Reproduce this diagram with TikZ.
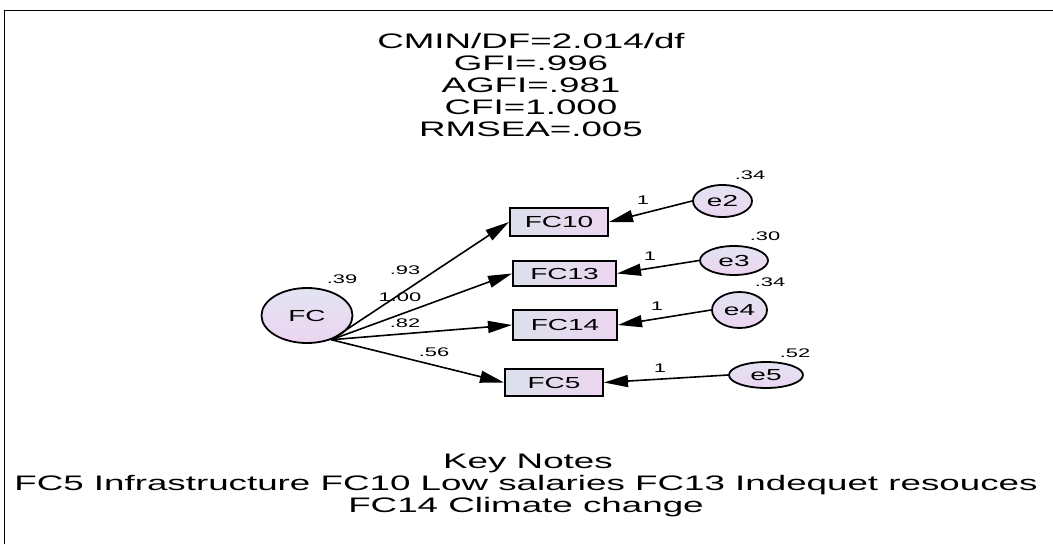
\documentclass[tikz,border=0pt]{standalone}
\usepackage{fontspec}
\setmainfont{Liberation Sans}[FakeStretch=1.75]
\usetikzlibrary{shapes.geometric,arrows.meta}
\definecolor{boxL}{RGB}{220,224,236}
\definecolor{boxR}{RGB}{236,214,240}
\definecolor{ellT}{RGB}{226,228,242}
\definecolor{ellB}{RGB}{236,212,240}
\tikzset{
  obs/.style={draw, line width=2pt, rectangle, inner sep=0pt, left color=boxL, right color=boxR,
    font=\fontsize{16}{19}\selectfont},
  lat/.style={draw, line width=1.8pt, ellipse, inner sep=0pt, top color=ellT, bottom color=ellB,
    font=\fontsize{16}{19}\selectfont},
  sempath/.style={line width=1.6pt, -{Triangle[length=24pt,width=12pt]}},
  num/.style={font=\fontsize{12.5}{15}\selectfont, inner sep=0pt},
  ttl/.style={font=\fontsize{21}{25}\selectfont, inner sep=0pt},
}
\begin{document}
\begin{tikzpicture}[x=1pt,y=-1pt]
\useasboundingbox (0,0) rectangle (1053,544);
\draw[line width=1.5pt] (4.5,544) |- (1053,10.5);

% fit indices
\node[ttl] (t1) at (531,41) {CMIN/DF=2.014/df};
\node[ttl] (t2) at (531,63) {GFI=.996};
\node[ttl] (t3) at (531,85) {AGFI=.981};
\node[ttl] (t4) at (531,107) {CFI=1.000};
\node[ttl] (t5) at (531,129) {RMSEA=.005};

% latent
\node[lat, minimum width=91pt, minimum height=55pt] (fc) at (307,315.5) {FC};
% observed
\node[obs, minimum width=98pt, minimum height=28pt] (fc10) at (559,222) {FC10};
\node[obs, minimum width=103pt, minimum height=25pt] (fc13) at (564.5,273.5) {FC13};
\node[obs, minimum width=104pt, minimum height=30pt] (fc14) at (565,325) {FC14};
\node[obs, minimum width=98pt, minimum height=27pt] (fc5) at (554,382.5) {FC5};
% errors
\node[lat, minimum width=59pt, minimum height=32pt] (e2) at (722.5,201) {e2};
\node[lat, minimum width=68pt, minimum height=29pt] (e3) at (734,260.5) {e3};
\node[lat, minimum width=55pt, minimum height=36pt] (e4) at (739.5,310) {e4};
\node[lat, minimum width=74pt, minimum height=26pt] (e5) at (766,375) {e5};

% paths
\draw[sempath] (fc.-45) -- (fc10.west);
\draw[sempath] (fc.-45) -- (fc13.west);
\draw[sempath] (fc.-45) -- (fc14.west);
\draw[sempath] (fc.-45) -- (fc5.west);
\draw[sempath] (e2.west) -- (fc10.east);
\draw[sempath] (e3.west) -- (fc13.east);
\draw[sempath] (e4.west) -- (fc14.east);
\draw[sempath] (e5.west) -- (fc5.east);

% estimates
\node[num] (v39) at (342,279) {.39};
\node[num] (l93) at (405,270) {.93};
\node[num] (l100) at (400,297) {1.00};
\node[num] (l82) at (405,323) {.82};
\node[num] (l56) at (434,352) {.56};
\node[num] (v34a) at (750,175) {.34};
\node[num] (v30) at (765,236) {.30};
\node[num] (v34b) at (770,282) {.34};
\node[num] (v52) at (795,353) {.52};
\node[num] (w2) at (643,200) {1};
\node[num] (w3) at (650,256) {1};
\node[num] (w4) at (657,306) {1};
\node[num] (w5) at (660,368) {1};

% key notes
\node[ttl] (k1) at (528,463) {Key Notes};
\node[ttl] (k2) at (526,485) {FC5 Infrastructure FC10 Low salaries FC13 Indequet resouces};
\node[ttl] (k3) at (526,507) {FC14 Climate change};
\end{tikzpicture}
\end{document}
